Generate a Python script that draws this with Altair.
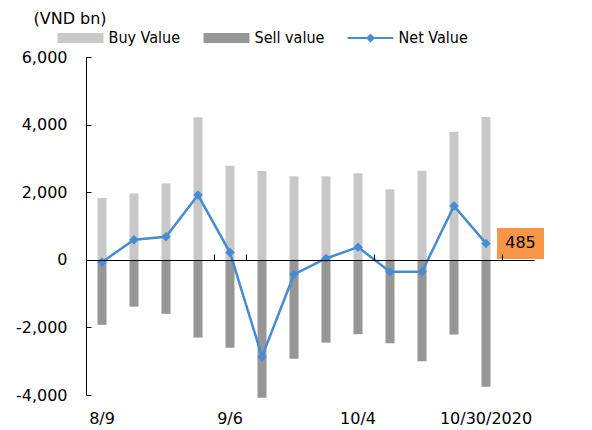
import altair as alt
import pandas as pd

# ---- data ----
weeks = ["8/9", "8/16", "8/23", "8/30", "9/6", "9/13", "9/20", "9/27",
         "10/4", "10/11", "10/18", "10/25", "10/30/2020"]
buy_value = [1830, 1965, 2260, 4215, 2785, 2625, 2470, 2470, 2560, 2085, 2635, 3785, 4225]
sell_value = [-1925, -1385, -1600, -2300, -2600, -4080, -2925, -2450, -2200, -2470, -3000, -2210, -3755]
net_value = [-70, 595, 680, 1915, 215, -2865, -435, 40, 375, -355, -355, 1590, 485]
x_labels = ["8/9", "9/6", "10/4", "10/30/2020"]
y_ticks = [-4000, -2000, 0, 2000, 4000, 6000]
series_names = ["Buy Value", "Sell value", "Net Value"]
series_colors = ["#c8c8c8", "#969696", "#468cd2"]
spare = " "  # empty slot on the right where the last value's label sits
x_domain = weeks + [spare]

FONT = "DejaVu Sans"
LEGEND_FONT = "DejaVu Sans Condensed"

buy_df = pd.DataFrame({"week": weeks, "value": buy_value})
sell_df = pd.DataFrame({"week": weeks, "value": sell_value})
net_df = pd.DataFrame({"week": weeks, "net": net_value})
last_df = pd.DataFrame({"week": [spare], "net": [net_value[-1]], "label": [f"{net_value[-1]}"]})
legend_df = pd.DataFrame({"week": [weeks[0]] * 3, "series": series_names, "v": [None, None, None]})

xscale = alt.Scale(domain=x_domain, paddingInner=0, paddingOuter=0)
yscale = alt.Scale(domain=[-4000, 6000], nice=False, zero=False)
cscale = alt.Scale(domain=series_names, range=series_colors)
rect_path = "M-2.3,-0.5L2.3,-0.5L2.3,0.5L-2.3,0.5Z"
line_path = "M-2.3,-0.1L2.3,-0.1L2.3,0.1L-2.3,0.1Z M0,-0.45L0.45,0L0,0.45L-0.45,0Z"
sscale = alt.Scale(domain=series_names, range=[rect_path, rect_path, line_path])

x_axis_labels = alt.Axis(values=x_labels, domain=False, ticks=False, tickSize=0, labelAngle=0,
                         labelFont=FONT, labelFontSize=16, labelColor="black", labelPadding=15,
                         title=None, grid=False)
y_axis_labels = alt.Axis(values=y_ticks, domain=True, domainColor="black", ticks=False, tickSize=0,
                         labelFont=FONT, labelFontSize=16, labelColor="black", labelPadding=19,
                         labelExpr="replace(format(datum.value, ','), '\u2212', '-')",
                         grid=False, title="(VND bn)", titleAngle=0, titleX=-53, titleY=-39,
                         titleAlign="left", titleBaseline="middle", titleFont=FONT,
                         titleFontSize=16, titleFontWeight="normal", titleColor="black")

leg = dict(orient="none", legendX=-15.5, legendY=-29, direction="horizontal", title=None,
           labelFont=LEGEND_FONT, labelFontSize=16, labelColor="black", labelOffset=18,
           columnPadding=23, symbolSize=400, symbolStrokeWidth=0)
legend_layer = alt.Chart(legend_df).mark_point(filled=True, opacity=1, size=400).encode(
    x=alt.X("week:N", scale=xscale, sort=x_domain, axis=None),
    y=alt.Y("v:Q", scale=yscale, axis=None),
    color=alt.Color("series:N", scale=cscale, legend=alt.Legend(**leg)),
    shape=alt.Shape("series:N", scale=sscale, legend=alt.Legend(**leg)),
)

buy_bars = alt.Chart(buy_df).mark_bar(size=9, color=series_colors[0]).encode(
    x=alt.X("week:N", scale=xscale, sort=x_domain, axis=x_axis_labels),
    y=alt.Y("value:Q", scale=yscale, axis=y_axis_labels),
)
sell_bars = alt.Chart(sell_df).mark_bar(size=9, color=series_colors[1]).encode(
    x=alt.X("week:N", scale=xscale, sort=x_domain, axis=None),
    y=alt.Y("value:Q", scale=yscale, axis=None),
)

x_axis_zero = alt.Axis(orient="top", offset=-203, values=["9/6", "10/4", "10/30/2020"],
                       tickBand="extent", tickExtra=False, tickSize=6, tickColor="black",
                       domain=True, domainColor="black", domainWidth=1.2, labels=False,
                       title=None, grid=False, zindex=1)
y_axis_ticks = alt.Axis(orient="left", offset=-5, values=y_ticks, domain=False, labels=False,
                        tickSize=5, tickColor="black", title=None, grid=False)

line = alt.Chart(net_df).mark_line(strokeWidth=2.5, color=series_colors[2]).encode(
    x=alt.X("week:N", scale=xscale, sort=x_domain, axis=x_axis_zero),
    y=alt.Y("net:Q", scale=yscale, axis=y_axis_ticks),
)
points = alt.Chart(net_df).mark_point(shape="diamond", filled=True, size=90, opacity=1,
                                      color=series_colors[2]).encode(
    x=alt.X("week:N", scale=xscale, sort=x_domain, axis=None),
    y=alt.Y("net:Q", scale=yscale, axis=None),
)

box = alt.Chart(last_df).mark_point(shape="M-1.35,-1L1.68,-1L1.68,1L-1.35,1Z", filled=True,
                                    size=961, opacity=1, color="#f79646", strokeWidth=0).encode(
    x=alt.X("week:N", scale=xscale, sort=x_domain, axis=None),
    y=alt.Y("net:Q", scale=yscale, axis=None),
)
box_text = alt.Chart(last_df).mark_text(font=FONT, fontSize=16, color="black", dx=2.5,
                                        align="center", baseline="middle").encode(
    x=alt.X("week:N", scale=xscale, sort=x_domain, axis=None),
    y=alt.Y("net:Q", scale=yscale, axis=None),
    text="label:N",
)

chart = alt.layer(legend_layer, buy_bars, sell_bars, line, points, box, box_text).resolve_axis(
    x="independent", y="independent"
).properties(
    width=448, height=338,
    autosize=alt.AutoSizeParams(type="none"),
    padding={"left": 78, "top": 49, "right": 40, "bottom": 35},
    background="white",
).configure_view(stroke=None)

chart.save("out.html", embed_options={"renderer": "svg", "actions": False})
